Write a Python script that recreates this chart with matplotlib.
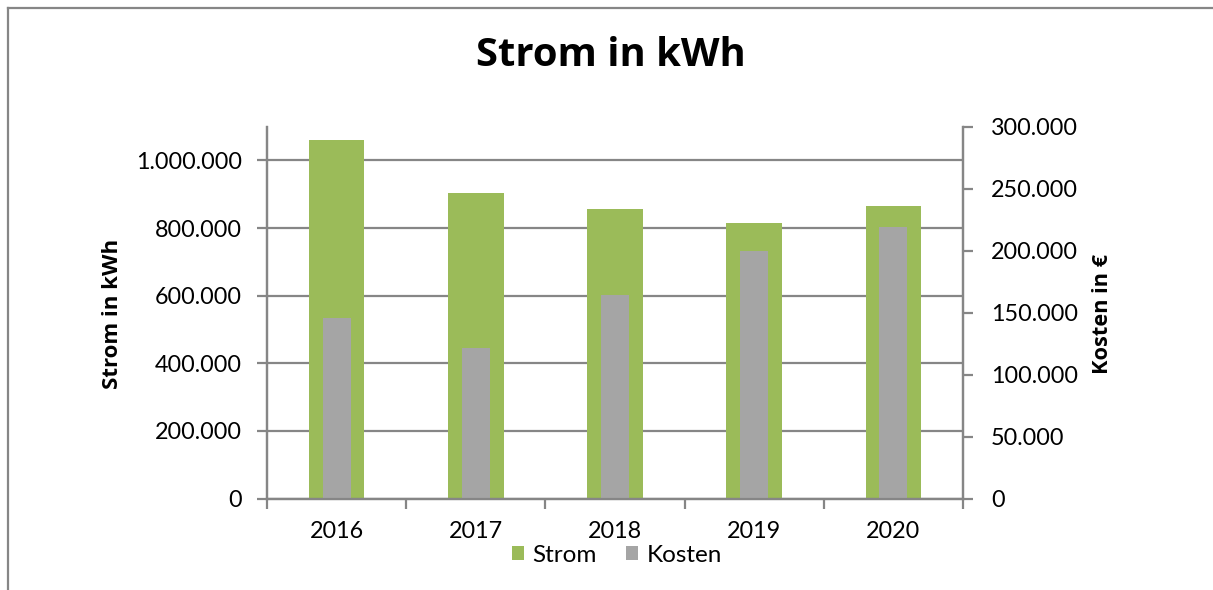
import matplotlib
matplotlib.use("Agg")
import matplotlib.pyplot as plt
from matplotlib.ticker import FuncFormatter, FixedLocator
from matplotlib.patches import Patch
from matplotlib.lines import Line2D

years = ["2016", "2017", "2018", "2019", "2020"]
strom = [1061000, 903000, 856000, 815000, 865000]
kosten = [145600, 121400, 164000, 200100, 218700]

GREEN = "#9BBB59"
GRAY = "#A5A5A5"
AXC = "#868686"
FONT = "Lato"
BFONT = "Open Sans"
plt.rcParams['font.family'] = [FONT, 'DejaVu Sans']

W, H = 1213, 590
fig = plt.figure(figsize=(W / 100, H / 100), dpi=100)

def de(v, pos=None):
    return f"{int(round(v)):,}".replace(",", ".")

L, R, T, B = 267, 963, 126.7, 498.5
ax = fig.add_axes([L / W, 1 - B / H, (R - L) / W, (B - T) / H])
ax2 = ax.twinx()

x = list(range(len(years)))
ax.bar(x, strom, width=0.4, color=GREEN, zorder=2)
ax2.bar(x, kosten, width=0.2, color=GRAY, zorder=2)

ax.set_xlim(-0.5, len(years) - 0.5)
ax.set_ylim(0, 1100000)
ax2.set_ylim(0, 300000)

ax.yaxis.set_major_locator(FixedLocator([0, 200000, 400000, 600000, 800000, 1000000]))
ax2.yaxis.set_major_locator(FixedLocator([0, 50000, 100000, 150000, 200000, 250000, 300000]))
ax.yaxis.set_major_formatter(FuncFormatter(de))
ax2.yaxis.set_major_formatter(FuncFormatter(de))

ax.set_axisbelow(True)
ax.grid(axis='y', color=AXC, linewidth=1.6)
ax.grid(axis='x', visible=False)

for a in (ax, ax2):
    for s in a.spines.values():
        s.set_color(AXC)
        s.set_linewidth(1.6)
    a.spines['top'].set_visible(False)

TS = 16.8
ax.set_xticks(x)
ax.set_xticklabels(years)
ax.set_xticks([i - 0.5 for i in range(len(years) + 1)], minor=True)
ax.tick_params(axis='x', which='major', length=0, pad=16, labelsize=TS)
ax.tick_params(axis='x', which='minor', length=7, width=1.6, color=AXC, direction='out')
ax.tick_params(axis='y', length=7, width=1.6, color=AXC, pad=11, labelsize=TS)
ax2.tick_params(axis='y', length=7, width=1.6, color=AXC, pad=13, labelsize=TS)

fig.text(112.5 / W, 1 - 314 / H, "Strom in kWh", ha='center', va='center', rotation=90,
         fontsize=16, fontweight='bold', family=[BFONT, 'DejaVu Sans'])
fig.text(1102.6 / W, 1 - 314 / H, "Kosten in €", ha='center', va='center', rotation=90,
         fontsize=15.7, fontweight='bold', family=[BFONT, 'DejaVu Sans'])

fig.text(611 / W, 1 - 55 / H, "Strom in kWh", ha='center', va='center',
         fontsize=28.8, fontweight='bold', family=[BFONT, 'DejaVu Sans'])

handles = [Patch(facecolor=GREEN, label="Strom"), Patch(facecolor=GRAY, label="Kosten")]
fig.legend(handles=handles, loc='center', bbox_to_anchor=(617 / W, 1 - 555 / H),
           ncol=2, frameon=False, fontsize=17.5, handlelength=0.5, handleheight=0.5,
           handletextpad=0.35, columnspacing=1.2, borderpad=0)

# chart border
fig.add_artist(Line2D([7.5 / W, 1], [1 - 7.5 / H, 1 - 7.5 / H], color=AXC, linewidth=1.6,
                      transform=fig.transFigure))
fig.add_artist(Line2D([7.5 / W, 7.5 / W], [0, 1 - 7.5 / H], color=AXC, linewidth=1.6,
                      transform=fig.transFigure))

fig.savefig("out.png", dpi=100)
